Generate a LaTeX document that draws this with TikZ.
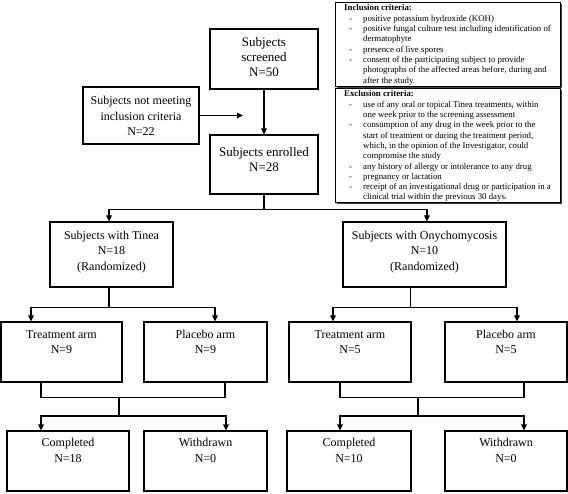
\documentclass[tikz,border=0pt]{standalone}
\usepackage{fontspec}
\setmainfont{Liberation Serif}
\usetikzlibrary{arrows.meta}
\begin{document}
\begin{tikzpicture}[x=1pt,y=-1pt,
  box/.style={draw, line width=1.1pt, inner sep=0pt},
  big/.style={align=center, inner sep=0pt, font=\fontsize{13}{15}\selectfont},
  mid/.style={align=center, inner sep=0pt, font=\fontsize{12}{15.5}\selectfont},
  small/.style={anchor=north west, inner sep=0pt, font=\fontsize{8.8}{10.3}\selectfont},
  conn/.style={line width=1.1pt},
  arr/.style={conn, -{Triangle[length=6pt,width=5.5pt]}},
  shadowbox/.style={fill=black!75, draw=none},
  critbox/.style={draw, line width=0.8pt, fill=white}]
\useasboundingbox (0,0) rectangle (568,493);
% criteria boxes
\fill[shadowbox] (337,4) rectangle (562,88);
\draw[critbox] (335,2) rectangle (560,86);
\fill[shadowbox] (337,90) rectangle (562,204);
\draw[critbox] (335,88) rectangle (560,202);
\node[small] (inc) at (344,3.5) {%
\begin{tabular}{@{}p{19pt}@{}l@{}}
\multicolumn{2}{@{}l@{}}{\textbf{Inclusion criteria:}}\\
\hspace{5pt}- & positive potassium hydroxide (KOH)\\
\hspace{5pt}- & positive fungal culture test including identification of\\
 & dermatophyte\\
\hspace{5pt}- & presence of live spores\\
\hspace{5pt}- & consent of the participating subject to provide\\
 & photographs of the affected areas before, during and\\
 & after the study.
\end{tabular}};
\node[small] (exc) at (344,89.5) {%
\begin{tabular}{@{}p{19pt}@{}l@{}}
\multicolumn{2}{@{}l@{}}{\textbf{Exclusion criteria:}}\\
\hspace{5pt}- & use of any oral or topical Tinea treatments, within\\
 & one week prior to the screening assessment\\
\hspace{5pt}- & consumption of any drug in the week prior to the\\
 & start of treatment or during the treatment period,\\
 & which, in the opinion of the Investigator, could\\
 & compromise the study\\
\hspace{5pt}- & any history of allergy or intolerance to any drug\\
\hspace{5pt}- & pregnancy or lactation\\
\hspace{5pt}- & receipt of an investigational drug or participation in a\\
 & clinical trial within the previous 30 days.
\end{tabular}};
% main boxes
\node[box, minimum width=108pt, minimum height=60pt] (scr) at (264,59) {};
\node[big] (scrt) at (264,57) {Subjects\\screened\\N=50};
\node[box, minimum width=116pt, minimum height=57pt] (nm) at (141,115.5) {};
\node[mid] (nmt) at (141,116) {Subjects not meeting\\inclusion criteria\\N=22};
\node[box, minimum width=108pt, minimum height=59pt] (enr) at (264,164.5) {};
\node[big] (enrt) at (264,160) {Subjects enrolled\\N=28};
\node[box, minimum width=123pt, minimum height=65pt] (tin) at (111.5,254.5) {};
\node[mid] (tint) at (111.5,252) {Subjects with Tinea\\N=18\\(Randomized)};
\node[box, minimum width=163pt, minimum height=65pt] (ony) at (424.5,254.5) {};
\node[mid] (onyt) at (424.5,252) {Subjects with Onychomycosis\\N=10\\(Randomized)};
% arms
\node[box, minimum width=121pt, minimum height=60pt] (tl) at (61.5,352) {};
\node[mid, anchor=north] (tlt) at ([yshift=-8.5pt]tl.north) {Treatment arm\\N=9};
\node[box, minimum width=123pt, minimum height=60pt] (pl) at (205.5,352) {};
\node[mid, anchor=north] (plt) at ([yshift=-8.5pt]pl.north) {Placebo arm\\N=9};
\node[box, minimum width=122pt, minimum height=60pt] (tr) at (350,352) {};
\node[mid, anchor=north] (trt) at ([yshift=-8.5pt]tr.north) {Treatment arm\\N=5};
\node[box, minimum width=122pt, minimum height=60pt] (pr) at (506,352) {};
\node[mid, anchor=north] (prt) at ([yshift=-8.5pt]pr.north) {Placebo arm\\N=5};
% outcomes
\node[box, minimum width=122pt, minimum height=60pt] (cl) at (68,461) {};
\node[mid, anchor=north] (clt) at ([yshift=-8pt]cl.north) {Completed\\N=18};
\node[box, minimum width=123pt, minimum height=60pt] (wl) at (205.5,461) {};
\node[mid, anchor=north] (wlt) at ([yshift=-8pt]wl.north) {Withdrawn\\N=0};
\node[box, minimum width=124pt, minimum height=60pt] (cr) at (349,461) {};
\node[mid, anchor=north] (crt) at ([yshift=-8pt]cr.north) {Completed\\N=10};
\node[box, minimum width=122pt, minimum height=60pt] (wr) at (506,461) {};
\node[mid, anchor=north] (wrt) at ([yshift=-8pt]wr.north) {Withdrawn\\N=0};
% connectors
\coordinate (nmtip) at (243,115.5);
\draw[arr] (nm.east) -- (nmtip);
\draw[arr] (scr.south) -- (enr.north);
\draw[conn] (enr.south) -- ++(0,15) coordinate (split);
\draw[arr] (split) -| ([xshift=-2.5pt]tin.north);
\draw[arr] (split) -| ([xshift=2.5pt]ony.north);
\draw[conn] ([xshift=-2.5pt]tin.south) -- ++(0,20) coordinate (tsplit);
\draw[arr] (tsplit) -| ([xshift=-30.5pt]tl.north);
\draw[arr] (tsplit) -| ([xshift=9.5pt]pl.north);
\draw[conn] ([xshift=-14pt]ony.south) -- ++(0,20) coordinate (osplit);
\draw[arr] (osplit) -| ([xshift=-17pt]tr.north);
\draw[arr] (osplit) -| ([xshift=11pt]pr.north);
% merges left
\draw[conn] ([xshift=-20.5pt]tl.south) -- ++(0,15) -| ([xshift=19.5pt]pl.south);
\coordinate (mla) at (119,397);
\draw[conn] (mla) -- ++(0,19) coordinate (mlb);
\draw[arr] (mlb) -| ([xshift=-27pt]cl.north);
\draw[arr] (mlb) -| ([xshift=20.5pt]wl.north);
% merges right
\draw[conn] ([xshift=-10pt]tr.south) -- ++(0,15) -| ([xshift=18pt]pr.south);
\coordinate (mra) at (418,397);
\draw[conn] (mra) -- ++(0,19) coordinate (mrb);
\draw[arr] (mrb) -| ([xshift=-9pt]cr.north);
\draw[arr] (mrb) -| ([xshift=18pt]wr.north);
\end{tikzpicture}
\end{document}
